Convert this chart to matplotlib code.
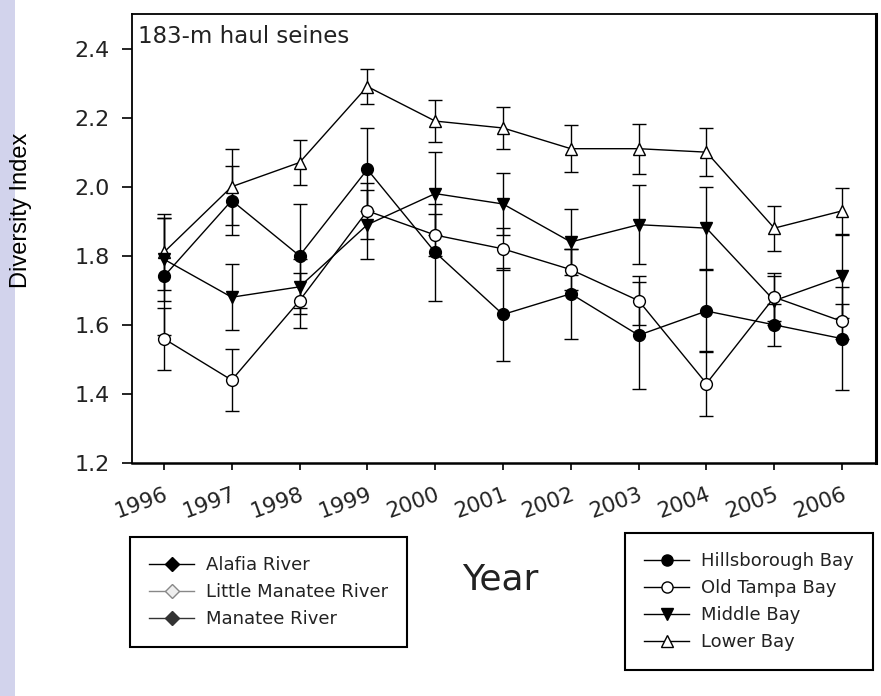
import matplotlib.pyplot as plt
from matplotlib.lines import Line2D
from matplotlib.patches import Rectangle

plt.rcParams['font.family'] = ['DejaVu Sans']

years = [1996, 1997, 1998, 1999, 2000, 2001, 2002, 2003, 2004, 2005, 2006]

# Hillsborough Bay (filled circle)
hills = [1.74, 1.96, 1.80, 2.05, 1.81, 1.63, 1.69, 1.57, 1.64, 1.60, 1.56]
hills_err = [0.17, 0.10, 0.15, 0.12, 0.14, 0.135, 0.13, 0.155, 0.12, 0.06, 0.15]
# Old Tampa Bay (open circle)
otb = [1.56, 1.44, 1.67, 1.93, 1.86, 1.82, 1.76, 1.67, 1.43, 1.68, 1.61]
otb_err = [0.09, 0.09, 0.08, 0.08, 0.06, 0.06, 0.06, 0.07, 0.095, 0.07, 0.05]
# Middle Bay (filled down triangle)
mid = [1.79, 1.68, 1.71, 1.89, 1.98, 1.95, 1.84, 1.89, 1.88, 1.67, 1.74]
mid_err = [0.12, 0.095, 0.08, 0.10, 0.12, 0.09, 0.095, 0.115, 0.118, 0.07, 0.12]
# Lower Bay (open triangle)
low = [1.81, 2.00, 2.07, 2.29, 2.19, 2.17, 2.11, 2.11, 2.10, 1.88, 1.93]
low_err = [0.11, 0.11, 0.065, 0.05, 0.06, 0.06, 0.068, 0.072, 0.07, 0.065, 0.066]

river_names = ['Alafia River', 'Little Manatee River', 'Manatee River']
bay_names = ['Hillsborough Bay', 'Old Tampa Bay', 'Middle Bay', 'Lower Bay']

fig = plt.figure(figsize=(8.81, 6.96), dpi=100)
fig.patches.append(Rectangle((0, 0), 15 / 881, 1, transform=fig.transFigure,
                             facecolor='#d2d3ec', edgecolor='none', zorder=0))

ax = fig.add_axes([132 / 881, 1 - 463 / 696, (876 - 132) / 881, (463 - 14) / 696])

eb = dict(color='black', lw=1.0, elinewidth=1.0, capsize=5, capthick=1.0, ms=8.5,
          markeredgecolor='black', markeredgewidth=1.0)
ax.errorbar(years, low, yerr=low_err, fmt='-^', markerfacecolor='white', **eb)
ax.errorbar(years, mid, yerr=mid_err, fmt='-v', markerfacecolor='black', **eb)
ax.errorbar(years, otb, yerr=otb_err, fmt='-o', markerfacecolor='white', **eb)
ax.errorbar(years, hills, yerr=hills_err, fmt='-o', markerfacecolor='black', **eb)

ax.set_xlim(1995.53, 2006.5)
ax.set_ylim(1.2, 2.5)
ax.set_yticks([1.2, 1.4, 1.6, 1.8, 2.0, 2.2, 2.4])
ax.set_yticklabels(['1.2', '1.4', '1.6', '1.8', '2.0', '2.2', '2.4'], fontsize=16,
                   color='#222222')
ax.set_xticks(years)
ax.set_xticklabels([str(y) for y in years], fontsize=15.5, rotation=20,
                   ha='right', rotation_mode='anchor', color='#222222')
ax.tick_params(axis='y', direction='out', length=7, width=1.2, pad=9)
ax.tick_params(axis='x', direction='out', length=5, width=1.2, pad=10)
for s in ax.spines.values():
    s.set_linewidth(1.3)
ax.spines['right'].set_linewidth(2.2)
ax.spines['bottom'].set_linewidth(1.8)

ax.text(0.008, 0.975, '183-m haul seines', transform=ax.transAxes, fontsize=16.5,
        va='top', ha='left', color='#222222')

fig.text(21 / 881, 1 - 210 / 696, 'Diversity Index', rotation=90, fontsize=17,
         family='Liberation Sans', ha='center', va='center')
fig.text(500 / 881, 1 - 579 / 696, 'Year', fontsize=26, ha='center', va='center',
         color='#222222')

river_handles = [
    Line2D([], [], color='black', marker='D', ms=7, mfc='black', lw=1),
    Line2D([], [], color='#888888', marker='D', ms=7, mfc='#eeeeee', lw=1),
    Line2D([], [], color='#333333', marker='D', ms=7, mfc='#333333', lw=1),
]
bay_handles = [
    Line2D([], [], color='black', marker='o', ms=8, mfc='black', lw=1),
    Line2D([], [], color='black', marker='o', ms=8, mfc='white', lw=1),
    Line2D([], [], color='black', marker='v', ms=8, mfc='black', lw=1),
    Line2D([], [], color='black', marker='^', ms=8, mfc='white', lw=1),
]
leg_kw = dict(fontsize=13, fancybox=False, framealpha=1, edgecolor='black',
              handlelength=2.5, handletextpad=0.65, borderpad=1.05,
              labelspacing=0.5, borderaxespad=0, labelcolor='#222222')
leg1 = fig.legend(river_handles, river_names, loc='upper left',
                  bbox_to_anchor=(130 / 881, 1 - 537 / 696), **leg_kw)
leg1.get_frame().set_linewidth(1.5)
leg2 = fig.legend(bay_handles, bay_names, loc='upper left',
                  bbox_to_anchor=(625 / 881, 1 - 533 / 696), **leg_kw)
leg2.get_frame().set_linewidth(1.5)

fig.savefig('out.png', dpi=100)
